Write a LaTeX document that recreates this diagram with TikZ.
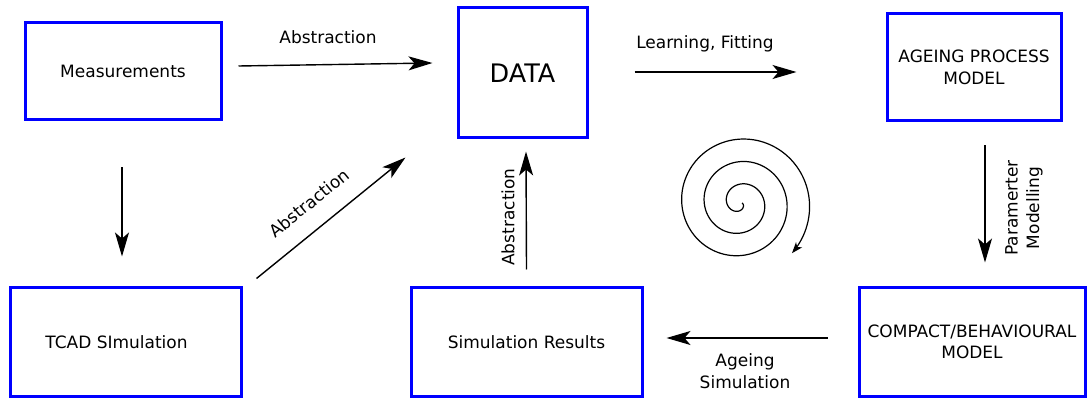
\documentclass[tikz,border=0pt]{standalone}
\usepackage{fontspec}
\setmainfont{DejaVu Sans}
\usetikzlibrary{arrows.meta}

\begin{document}
\begin{tikzpicture}[x=1pt,y=-1pt,
  box/.style={draw=blue, line width=3pt, inner sep=0pt},
  lbl/.style={font=\fontsize{17}{21.5}\selectfont, align=center, inner sep=0pt},
  arr/.style={line width=1.4pt, -{Stealth[length=24pt,width=14pt,inset=6pt]}},
  spiralarr/.style={line width=1.2pt, -{Stealth[length=11pt,width=8pt,inset=3pt]}}]

\useasboundingbox (0,0) rectangle (1088,398);

% boxes
\node[box, lbl, minimum width=196pt, minimum height=97pt] (meas) at (123,71.5) {Measurements};
\node[box, minimum width=129pt, minimum height=130pt, font=\fontsize{25.5}{30}\selectfont] (data) at (522.5,73) {DATA};
\node[box, lbl, minimum width=174pt, minimum height=107pt] (apm) at (974,67.5) {AGEING PROCESS\\MODEL};
\node[box, minimum width=231pt, minimum height=108pt] (tcad) at (125.5,342) {};
\node[lbl] (tcadtext) at ([xshift=-9pt]tcad.center) {TCAD SImulation};
\node[box, lbl, minimum width=231pt, minimum height=108pt] (simres) at (526.5,342) {Simulation Results};
\node[box, lbl, minimum width=226pt, minimum height=108pt] (cbm) at (972,342) {COMPACT/BEHAVIOURAL\\MODEL};

% connectors
\draw[arr] ([shift={(16,-5.5)}]meas.east) -- ([shift={(-24,-10)}]data.west);
\draw[arr] ([shift={(46,-1)}]data.east) -- ([shift={(-89,4.5)}]apm.west);
\draw[arr] ([shift={(-1,46)}]meas.south) -- ([shift={(-3.5,-30)}]tcad.north);
\draw[arr] ([shift={(14,-8)}]tcad.north east) -- ([shift={(-51,18)}]data.south west);
\draw[arr] ([shift={(0,-17)}]simres.north) -- ([shift={(3.5,12)}]data.south);
\draw[arr] ([shift={(11,23)}]apm.south) -- ([shift={(13,-24)}]cbm.north);
\draw[arr] ([shift={(-30,-4)}]cbm.west) -- ([shift={(23,-4)}]simres.east);

% connector labels
\node[lbl] (l1) at (328,37) {Abstraction};
\node[lbl] (l2) at (705,44) {Learning, Fitting};
\node[lbl, rotate=39] (l3) at (309,203) {Abstraction};
\node[lbl, rotate=90] (l4) at (508,217) {Abstraction};
\node[lbl, rotate=90] (l5) at (1024,208) {Paramerter\\Modelling};
\node[lbl] (l6) at (745,371) {Ageing\\Simulation};

% iteration spiral, radius growing 22.5pt per turn
\begin{scope}[shift={(740,203)}]
\draw[spiralarr] plot[domain=0:1124, samples=400, smooth]
  ({(2+\x/16)*cos(\x)}, {(2+\x/16)*sin(\x)});
\end{scope}

\end{tikzpicture}
\end{document}
